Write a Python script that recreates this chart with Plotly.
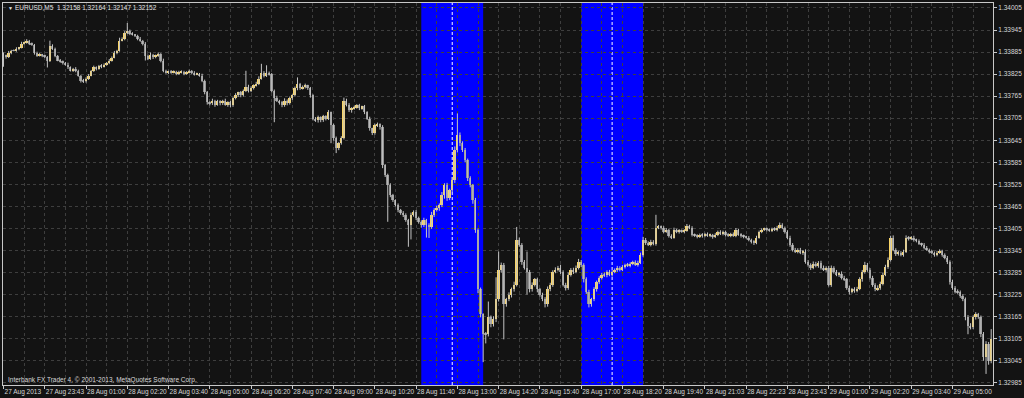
import plotly.graph_objects as go

# ---------------- data (prices in points: price = 1.30000 + v * 0.00001) ----------------
BASE = 1.30000
POINT = 0.00001
OPEN0 = 3880

CLOSES = [
    3875, 3872, 3883, 3889, 3889, 3894, 3897, 3908, 3910, 3916, 3908, 3905, 3883, 3875, 3878, 3875,
    3872, 3862, 3902, 3894, 3875, 3862, 3859, 3856, 3851, 3843, 3834, 3840, 3834, 3821, 3807, 3805,
    3813, 3821, 3834, 3843, 3840, 3848, 3845, 3851, 3856, 3862, 3870, 3883, 3889, 3916, 3921, 3937,
    3943, 3935, 3932, 3929, 3921, 3916, 3908, 3875, 3867, 3878, 3872, 3875, 3880, 3862, 3834, 3829,
    3832, 3829, 3832, 3826, 3829, 3832, 3826, 3829, 3834, 3829, 3824, 3826, 3821, 3807, 3775, 3748,
    3745, 3753, 3742, 3751, 3745, 3753, 3742, 3748, 3740, 3759, 3767, 3775, 3767, 3780, 3791, 3780,
    3788, 3794, 3799, 3813, 3829, 3821, 3829, 3824, 3780, 3761, 3753, 3748, 3740, 3753, 3745, 3759,
    3767, 3786, 3797, 3786, 3791, 3794, 3786, 3767, 3704, 3699, 3707, 3699, 3710, 3704, 3721, 3686,
    3650, 3623, 3637, 3650, 3753, 3742, 3726, 3732, 3734, 3740, 3732, 3737, 3721, 3704, 3677, 3664,
    3686, 3688, 3680, 3577, 3550, 3523, 3496, 3482, 3469, 3455, 3447, 3442, 3428, 3415, 3442, 3450,
    3434, 3423, 3415, 3428, 3415, 3409, 3442, 3455, 3461, 3469, 3496, 3523, 3488, 3509, 3537, 3618,
    3658, 3637, 3618, 3591, 3542, 3523, 3482, 3401, 3239, 3171, 3117, 3117, 3163, 3144, 3158, 3212,
    3293, 3306, 3198, 3212, 3225, 3239, 3252, 3374, 3361, 3314, 3298, 3287, 3239, 3252, 3266, 3239,
    3225, 3212, 3198, 3239, 3252, 3287, 3293, 3298, 3287, 3252, 3244, 3279, 3293, 3287, 3298, 3314,
    3306, 3266, 3233, 3198, 3212, 3239, 3258, 3271, 3279, 3277, 3287, 3279, 3287, 3293, 3298, 3293,
    3301, 3306, 3304, 3309, 3314, 3306, 3312, 3333, 3374, 3366, 3361, 3369, 3363, 3407, 3409, 3407,
    3396, 3401, 3385, 3380, 3401, 3396, 3399, 3396, 3399, 3412, 3407, 3388, 3385, 3382, 3388, 3385,
    3390, 3385, 3388, 3382, 3388, 3396, 3390, 3396, 3388, 3385, 3390, 3385, 3401, 3388, 3385, 3382,
    3380, 3374, 3369, 3366, 3380, 3396, 3401, 3404, 3401, 3399, 3404, 3401, 3407, 3415, 3407, 3396,
    3380, 3361, 3347, 3342, 3347, 3339, 3342, 3314, 3306, 3298, 3309, 3304, 3312, 3298, 3293, 3298,
    3252, 3298, 3287, 3279, 3282, 3271, 3266, 3244, 3233, 3239, 3236, 3241, 3266, 3287, 3306, 3293,
    3271, 3252, 3239, 3244, 3255, 3279, 3301, 3320, 3380, 3347, 3336, 3339, 3333, 3342, 3380, 3377,
    3380, 3374, 3371, 3363, 3361, 3352, 3347, 3342, 3339, 3333, 3339, 3344, 3333, 3325, 3314, 3260,
    3244, 3233, 3231, 3222, 3212, 3163, 3139, 3136, 3163, 3171, 3163, 3117, 3055, 3090, 3044, 3103,
]

WICK_UP = [
    4, 3, 5, 2, 3, 4, 2, 5, 3, 4, 2, 3, 2, 3, 4, 2,
    3, 2, 14, 4, 3, 2, 4, 3, 2, 5, 3, 2, 4, 3, 2, 5,
    3, 4, 2, 5, 3, 2, 4, 3, 2, 4, 3, 5, 2, 8, 4, 5,
    21, 3, 4, 2, 3, 5, 2, 4, 3, 6, 2, 3, 4, 2, 5, 3,
    2, 4, 3, 2, 5, 3, 2, 4, 3, 2, 4, 3, 2, 5, 3, 4,
    3, 5, 2, 4, 3, 2, 5, 3, 4, 3, 6, 2, 4, 3, 43, 5,
    4, 3, 5, 6, 24, 4, 20, 3, 4, 3, 5, 2, 4, 6, 3, 5,
    3, 5, 19, 4, 3, 5, 2, 4, 3, 4, 5, 3, 4, 3, 6, 2,
    4, 5, 3, 6, 8, 5, 4, 3, 5, 3, 4, 2, 4, 3, 5, 2,
    4, 5, 3, 6, 3, 4, 5, 3, 2, 4, 3, 5, 4, 3, 6, 4,
    5, 3, 4, 6, 3, 4, 8, 5, 6, 4, 8, 5, 6, 4, 8, 10,
    60, 8, 5, 6, 4, 5, 3, 6, 4, 5, 3, 6, 43, 5, 8, 60,
    49, 6, 5, 4, 6, 5, 8, 35, 6, 4, 5, 44, 5, 6, 4, 5,
    4, 5, 6, 8, 5, 4, 6, 5, 8, 4, 5, 6, 4, 5, 6, 8,
    5, 4, 6, 5, 4, 6, 5, 4, 5, 6, 4, 5, 4, 3, 5, 4,
    4, 3, 5, 4, 3, 4, 5, 6, 8, 5, 4, 5, 4, 35, 5, 4,
    4, 5, 3, 4, 6, 3, 4, 3, 4, 5, 3, 4, 3, 4, 3, 4,
    3, 4, 3, 2, 4, 3, 4, 3, 3, 4, 3, 4, 5, 3, 4, 3,
    3, 4, 3, 4, 5, 3, 4, 3, 3, 4, 3, 4, 5, 6, 4, 3,
    4, 5, 4, 5, 4, 5, 4, 6, 5, 4, 6, 5, 4, 5, 6, 4,
    5, 6, 4, 5, 4, 6, 5, 4, 5, 4, 6, 5, 6, 5, 8, 5,
    4, 5, 4, 6, 5, 6, 5, 6, 5, 6, 4, 5, 4, 5, 6, 4,
    4, 5, 3, 4, 3, 4, 5, 3, 4, 3, 5, 4, 3, 4, 5, 4,
    5, 4, 6, 5, 4, 5, 6, 8, 5, 6, 4, 5, 6, 8, 6, 28,
]

WICK_DN = [
    30, 5, 3, 4, 2, 3, 4, 2, 3, 2, 4, 3, 5, 3, 2, 4,
    3, 19, 4, 3, 4, 2, 3, 5, 3, 4, 2, 3, 4, 3, 5, 4,
    3, 4, 2, 3, 5, 3, 4, 2, 3, 4, 3, 2, 4, 3, 2, 4,
    3, 4, 2, 3, 4, 3, 5, 13, 4, 3, 6, 4, 3, 5, 4, 3,
    4, 3, 2, 4, 3, 2, 4, 3, 2, 4, 3, 2, 3, 4, 5, 6,
    5, 4, 6, 3, 5, 4, 3, 6, 5, 4, 3, 4, 5, 3, 4, 5,
    4, 5, 3, 4, 3, 5, 4, 3, 5, 67, 4, 6, 5, 4, 5, 3,
    4, 3, 5, 4, 3, 5, 4, 6, 5, 4, 6, 5, 4, 5, 4, 49,
    6, 13, 5, 4, 3, 5, 4, 6, 4, 3, 5, 4, 5, 4, 6, 5,
    4, 5, 6, 8, 5, 100, 6, 5, 4, 6, 5, 6, 5, 60, 40, 5,
    6, 5, 8, 6, 35, 30, 5, 6, 4, 8, 6, 10, 8, 6, 5, 8,
    6, 8, 5, 6, 8, 6, 10, 8, 10, 8, 76, 25, 6, 8, 6, 8,
    6, 8, 95, 6, 5, 8, 6, 5, 6, 8, 5, 62, 8, 6, 5, 8,
    6, 5, 8, 6, 5, 6, 4, 5, 6, 5, 8, 6, 5, 6, 4, 5,
    6, 8, 6, 8, 6, 5, 6, 4, 5, 4, 5, 4, 5, 4, 6, 5,
    4, 5, 4, 5, 4, 3, 5, 4, 5, 6, 4, 5, 4, 5, 4, 5,
    4, 3, 5, 4, 3, 4, 5, 3, 4, 3, 4, 5, 3, 4, 3, 5,
    4, 3, 4, 5, 3, 4, 3, 4, 5, 3, 4, 3, 4, 3, 5, 4,
    3, 4, 5, 6, 4, 3, 4, 3, 4, 3, 4, 3, 4, 3, 4, 5,
    4, 6, 5, 4, 5, 4, 6, 5, 5, 6, 4, 5, 6, 5, 4, 6,
    5, 6, 5, 4, 6, 5, 4, 6, 8, 5, 6, 5, 4, 6, 5, 6,
    5, 6, 5, 4, 6, 5, 4, 6, 5, 4, 6, 5, 4, 5, 4, 5,
    4, 5, 4, 3, 5, 4, 3, 5, 4, 5, 4, 3, 5, 4, 6, 8,
    6, 5, 4, 6, 5, 8, 22, 6, 5, 6, 4, 8, 10, 46, 10, 6,
]

X_LABELS = [
    "27 Aug 2013", "27 Aug 23:43", "28 Aug 01:00", "28 Aug 02:20", "28 Aug 03:40",
    "28 Aug 05:00", "28 Aug 06:20", "28 Aug 07:40", "28 Aug 09:00", "28 Aug 10:20",
    "28 Aug 11:40", "28 Aug 13:00", "28 Aug 14:20", "28 Aug 15:40", "28 Aug 17:00",
    "28 Aug 18:20", "28 Aug 19:40", "28 Aug 21:03", "28 Aug 22:23", "28 Aug 23:43",
    "29 Aug 01:00", "29 Aug 02:20", "29 Aug 03:40", "29 Aug 05:00",
]
BARS_PER_LABEL = 16

Y_TICKS = [1.32985, 1.33045, 1.33105, 1.33165, 1.33225, 1.33285, 1.33345, 1.33405, 1.33465,
           1.33525, 1.33585, 1.33645, 1.33705, 1.33765, 1.33825, 1.33885, 1.33945, 1.34005]

SESSIONS = [(162, 186), (224, 248)]   # highlighted bar ranges
SESSION_MID = [174, 236]

HEADER = "EURUSD,M5  1.32158 1.32164 1.32147 1.32152"
FOOTER = "Interbank FX Trader 4, \u00a9 2001-2013, MetaQuotes Software Corp."

# ---------------- build OHLC ----------------
n = len(CLOSES)
idx = list(range(n))
opens = [OPEN0] + CLOSES[:-1]
highs = [max(o, c) + u for o, c, u in zip(opens, CLOSES, WICK_UP)]
lows = [min(o, c) - d for o, c, d in zip(opens, CLOSES, WICK_DN)]
to_price = lambda v: BASE + v * POINT

BG = "#131313"
GRID = "#3e3e3e"
AXIS = "#c8c8c8"
FONT = "Liberation Sans"
BULL = "#f8d466"
BEAR = "#8e8e8e"
WICK = "#c4c4c4"

# wicks as line segments
wx, wy = [], []
for i, h, l in zip(idx, highs, lows):
    wx += [i, i, None]
    wy += [to_price(l), to_price(h), None]

# bodies as floating bars
body_base = [to_price(min(o, c)) for o, c in zip(opens, CLOSES)]
body_h = [max(abs(c - o), 1) * POINT for o, c in zip(opens, CLOSES)]
body_col = [BULL if c > o else BEAR for o, c in zip(opens, CLOSES)]

fig = go.Figure()
fig.add_trace(go.Scatter(x=wx, y=wy, mode="lines", line=dict(color=WICK, width=1),
                         hoverinfo="skip", showlegend=False))
fig.add_trace(go.Bar(x=idx, y=body_h, base=body_base, width=0.72,
                     marker=dict(color=body_col, line=dict(width=0)),
                     hoverinfo="skip", showlegend=False))

shapes = []
for a, b in SESSIONS:
    shapes.append(dict(type="rect", xref="x", yref="paper", x0=a, x1=b, y0=0, y1=1,
                       fillcolor="#0000ff", line=dict(width=0), layer="below"))
for m in SESSION_MID:
    shapes.append(dict(type="line", xref="x", yref="paper", x0=m, x1=m, y0=0, y1=1,
                       line=dict(color="#ffffff", width=1, dash="3px,2px"), layer="below"))

annotations = [
    dict(text="\u25bc", xref="paper", yref="paper", x=0.0035, y=0.988, showarrow=False,
         xanchor="left", yanchor="middle", font=dict(family=FONT, size=5, color="#e0e0e0")),
    dict(text=HEADER, xref="paper", yref="paper", x=0.0105, y=0.988, showarrow=False,
         xanchor="left", yanchor="middle", font=dict(family=FONT, size=6.5, color="#e0e0e0")),
    dict(text=FOOTER, xref="paper", yref="paper", x=0.003, y=0.013, showarrow=False,
         xanchor="left", yanchor="middle", font=dict(family=FONT, size=6.5, color="#d8d8d8")),
]

fig.update_layout(
    width=1024, height=398,
    margin=dict(l=2, r=27, t=2, b=12),
    paper_bgcolor=BG, plot_bgcolor=BG,
    shapes=shapes, annotations=annotations,
    showlegend=False, barmode="overlay", bargap=0,
    xaxis=dict(
        range=[-0.2, 383.7],
        tickmode="array",
        tickvals=[i * BARS_PER_LABEL for i in range(len(X_LABELS))],
        ticktext=X_LABELS, tickangle=0,
        ticks="outside", ticklen=3, tickcolor=AXIS, ticklabelposition="outside right",
        tickfont=dict(family=FONT, size=6.5, color="#d8d8d8"),
        showgrid=True, gridcolor=GRID, griddash="dot", gridwidth=1,
        minor=dict(tickmode="linear", tick0=0, dtick=8, showgrid=True, gridcolor=GRID,
                   griddash="dot", gridwidth=1, ticks=""),
        showline=True, linecolor=AXIS, linewidth=1, mirror=True, zeroline=False,
    ),
    yaxis=dict(
        range=[1.329788, 1.340185], side="right",
        tickmode="array", tickvals=Y_TICKS, ticktext=[f"{v:.5f}" for v in Y_TICKS],
        ticks="outside", ticklen=3, tickcolor=AXIS,
        tickfont=dict(family=FONT, size=6.5, color="#d8d8d8"),
        showgrid=True, gridcolor=GRID, griddash="dot", gridwidth=1,
        showline=True, linecolor=AXIS, linewidth=1, mirror=True, zeroline=False,
    ),
)

fig.write_html("out.html")
